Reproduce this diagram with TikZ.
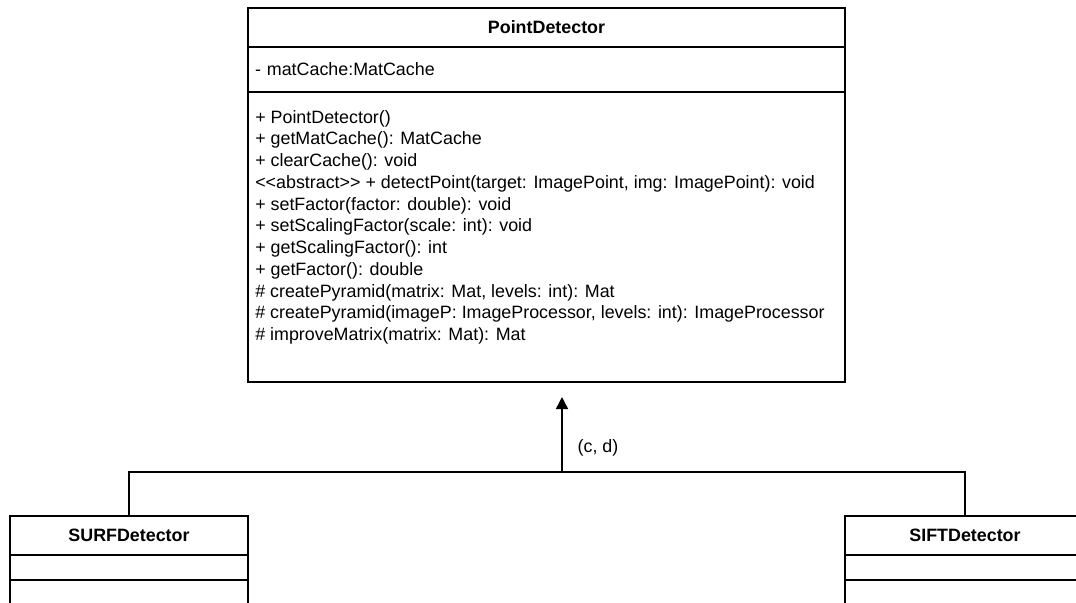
\documentclass[tikz,border=0pt]{standalone}
\usepackage{fontspec}
\setmainfont{Liberation Sans}
\usetikzlibrary{arrows.meta, positioning}

\begin{document}
\begin{tikzpicture}[x=0.75pt, y=-0.75pt, font=\fontsize{13.4}{16.3}\selectfont,
    umlhead/.style={draw, line width=1pt, outer sep=0pt, inner sep=0pt, font=\fontsize{13.4}{16.3}\selectfont\bfseries},
    umlpart/.style={draw, line width=1pt, outer sep=0pt, inner xsep=5.25pt, inner ysep=0pt, align=left},
    umltext/.style={inner sep=0pt, align=left, anchor=north west}]
\useasboundingbox (0,0) rectangle (1076,603);
\clip (0,0) rectangle (1076,603);

% abstract base class
\node[umlhead, anchor=north west, minimum width=447.75pt, minimum height=29.25pt] (pdhead) at (248,8) {PointDetector};
\node[umlpart, below=0pt of pdhead, minimum width=447.75pt, minimum height=33.75pt, text width=437.25pt] (pdattr) {- matCache:MatCache};
\node[umlpart, below=0pt of pdattr, minimum width=447.75pt, minimum height=217.5pt] (pdops) {};
\node[umltext] (pdopstxt) at ([xshift=5.25pt, yshift=-13.5pt]pdops.north west) {%
+ PointDetector()\\
+ getMatCache(): MatCache\\
+ clearCache(): void\\
<\kern0pt<abstract>\kern0pt> + detectPoint(target: ImagePoint, img: ImagePoint): void\\
+ setFactor(factor: double): void\\
+ setScalingFactor(scale: int): void\\
+ getScalingFactor(): int\\
+ getFactor(): double\\
\# createPyramid(matrix: Mat, levels: int): Mat\\
\# createPyramid(imageP: ImageProcessor, levels: int): ImageProcessor\\
\# improveMatrix(matrix: Mat): Mat};

% subclasses
\node[umlhead, anchor=north west, minimum width=178.5pt, minimum height=29.25pt] (surfhead) at (10,516) {SURFDetector};
\node[umlpart, below=0pt of surfhead, minimum width=178.5pt, minimum height=18.75pt] (surfattr) {};
\node[umlpart, below=0pt of surfattr, minimum width=178.5pt, minimum height=30pt] (surfops) {};

\node[umlhead, anchor=north west, minimum width=180pt, minimum height=29.25pt] (sifthead) at (845,516) {SIFTDetector};
\node[umlpart, below=0pt of sifthead, minimum width=180pt, minimum height=18.75pt] (siftattr) {};
\node[umlpart, below=0pt of siftattr, minimum width=180pt, minimum height=30pt] (siftops) {};

% inheritance
\coordinate (bus) at (562,472);
\draw[line width=1pt] (surfhead.north) |- (bus) -| (sifthead.north);
\draw[line width=1pt, -{Triangle[length=9pt, width=9pt]}, shorten >=11.25pt] (bus) -- (bus |- pdops.south);
\node (lbl) at (598,448) {(c, d)};
\end{tikzpicture}
\end{document}
